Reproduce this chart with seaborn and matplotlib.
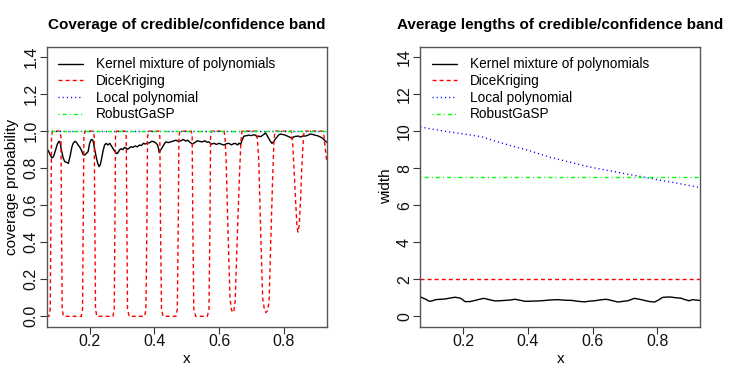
import matplotlib
matplotlib.use("Agg")
import matplotlib.pyplot as plt
import seaborn as sns

# x range shared by both panels
x_edges = [0.067, 0.933]

# --- left panel: coverage probability ---
kernel_cov_x = [0.067, 0.072, 0.077, 0.083, 0.088, 0.094, 0.100, 0.105, 0.108, 0.113,
                0.118, 0.123, 0.128, 0.134, 0.140, 0.145, 0.149, 0.154, 0.159, 0.164,
                0.169, 0.175, 0.180, 0.185, 0.190, 0.195, 0.200, 0.205, 0.210, 0.215,
                0.221, 0.225, 0.229, 0.233, 0.236, 0.241, 0.246, 0.251, 0.256, 0.262,
                0.267, 0.272, 0.278, 0.284, 0.288, 0.292, 0.297, 0.302, 0.308, 0.313,
                0.318, 0.323, 0.328, 0.334, 0.340, 0.347, 0.354, 0.360, 0.366, 0.372,
                0.378, 0.385, 0.392, 0.400, 0.405, 0.410, 0.413, 0.415, 0.420, 0.426,
                0.431, 0.436, 0.443, 0.451, 0.458, 0.467, 0.474, 0.482, 0.490, 0.497,
                0.503, 0.510, 0.518, 0.525, 0.533, 0.541, 0.549, 0.556, 0.563, 0.569,
                0.576, 0.585, 0.592, 0.600, 0.607, 0.615, 0.623, 0.631, 0.638, 0.645,
                0.651, 0.657, 0.662, 0.667, 0.672, 0.677, 0.684, 0.692, 0.700, 0.707,
                0.713, 0.718, 0.723, 0.729, 0.735, 0.740, 0.744, 0.749, 0.754, 0.759,
                0.764, 0.770, 0.775, 0.780, 0.785, 0.790, 0.797, 0.805, 0.813, 0.821,
                0.826, 0.831, 0.838, 0.846, 0.853, 0.860, 0.867, 0.875, 0.882, 0.890,
                0.897, 0.905, 0.913, 0.920, 0.928, 0.933]
kernel_cov_y = [0.905, 0.895, 0.875, 0.855, 0.862, 0.895, 0.930, 0.945, 0.942, 0.895,
                0.855, 0.835, 0.832, 0.826, 0.870, 0.915, 0.934, 0.945, 0.940, 0.925,
                0.915, 0.895, 0.872, 0.871, 0.880, 0.889, 0.935, 0.955, 0.951, 0.905,
                0.853, 0.825, 0.808, 0.820, 0.844, 0.890, 0.925, 0.934, 0.925, 0.934,
                0.920, 0.907, 0.890, 0.878, 0.885, 0.898, 0.905, 0.900, 0.912, 0.908,
                0.902, 0.910, 0.916, 0.912, 0.920, 0.915, 0.925, 0.922, 0.934, 0.930,
                0.937, 0.937, 0.945, 0.942, 0.935, 0.925, 0.905, 0.884, 0.900, 0.916,
                0.932, 0.942, 0.938, 0.942, 0.946, 0.951, 0.944, 0.948, 0.955, 0.946,
                0.951, 0.940, 0.930, 0.938, 0.948, 0.944, 0.942, 0.948, 0.940, 0.942,
                0.930, 0.934, 0.928, 0.934, 0.930, 0.925, 0.932, 0.934, 0.926, 0.932,
                0.934, 0.925, 0.935, 0.928, 0.955, 0.973, 0.975, 0.978, 0.976, 0.980,
                0.978, 0.968, 0.973, 0.970, 0.978, 0.984, 0.991, 0.975, 0.960, 0.945,
                0.934, 0.945, 0.960, 0.969, 0.980, 0.984, 0.982, 0.978, 0.972, 0.966,
                0.960, 0.969, 0.972, 0.973, 0.968, 0.975, 0.973, 0.978, 0.984, 0.982,
                0.978, 0.975, 0.969, 0.962, 0.948, 0.940]

dice_cov_x = [0.067, 0.074, 0.078, 0.080, 0.082, 0.085,
              0.108, 0.111, 0.113, 0.115, 0.119, 0.174, 0.178, 0.180, 0.182, 0.185,
              0.211, 0.214, 0.216, 0.218, 0.222, 0.272, 0.276, 0.278, 0.280, 0.283,
              0.310, 0.313, 0.315, 0.317, 0.322, 0.370, 0.374, 0.377, 0.379, 0.382,
              0.414, 0.417, 0.419, 0.422, 0.427, 0.467, 0.471, 0.474, 0.476, 0.479,
              0.514, 0.517, 0.519, 0.522, 0.528, 0.564, 0.569, 0.572, 0.574, 0.577,
              0.616, 0.619, 0.622, 0.628, 0.634, 0.638, 0.642, 0.646, 0.650, 0.656,
              0.663, 0.668, 0.671,
              0.716, 0.719, 0.723, 0.729, 0.735, 0.740, 0.745, 0.750, 0.755, 0.760,
              0.766, 0.770, 0.773,
              0.824, 0.828, 0.832, 0.837, 0.841, 0.844, 0.848, 0.852, 0.856, 0.860,
              0.863,
              0.921, 0.925, 0.929, 0.933]
dice_cov_y = [0.0, 0.0, 0.04, 0.5, 0.97, 1.0,
              1.0, 0.97, 0.5, 0.04, 0.0, 0.0, 0.04, 0.5, 0.97, 1.0,
              1.0, 0.97, 0.5, 0.04, 0.0, 0.0, 0.04, 0.5, 0.97, 1.0,
              1.0, 0.97, 0.5, 0.04, 0.0, 0.0, 0.04, 0.5, 0.97, 1.0,
              1.0, 0.97, 0.5, 0.04, 0.0, 0.0, 0.04, 0.5, 0.97, 1.0,
              1.0, 0.97, 0.5, 0.04, 0.0, 0.0, 0.04, 0.5, 0.97, 1.0,
              1.0, 0.95, 0.84, 0.45, 0.10, 0.04, 0.02, 0.03, 0.08, 0.40,
              0.75, 0.95, 1.0,
              1.0, 0.95, 0.84, 0.45, 0.10, 0.04, 0.02, 0.03, 0.08, 0.40,
              0.75, 0.95, 1.0,
              1.0, 0.93, 0.80, 0.62, 0.49, 0.455, 0.49, 0.62, 0.80, 0.93,
              1.0,
              1.0, 0.97, 0.90, 0.84]

local_cov_y = [1.0, 1.0]
robust_cov_y = [1.0, 1.0]

# --- right panel: average widths ---
kernel_len_x = [0.067, 0.069, 0.076, 0.083, 0.090, 0.098, 0.106, 0.114, 0.130, 0.145,
                0.160, 0.175, 0.191, 0.206, 0.222, 0.237, 0.250, 0.263, 0.280, 0.298,
                0.313, 0.329, 0.345, 0.360, 0.375, 0.391, 0.415, 0.442, 0.467, 0.493,
                0.514, 0.534, 0.555, 0.575, 0.590, 0.606, 0.625, 0.642, 0.660, 0.678,
                0.694, 0.709, 0.729, 0.745, 0.760, 0.775, 0.791, 0.804, 0.816, 0.829,
                0.842, 0.858, 0.873, 0.886, 0.898, 0.909, 0.920, 0.929, 0.933]
kernel_len_y = [1.02, 1.04, 0.98, 0.93, 0.85, 0.81, 0.85, 0.90, 0.92, 0.94,
                0.99, 1.03, 0.98, 0.79, 0.80, 0.86, 0.92, 0.97, 0.90, 0.83,
                0.84, 0.86, 0.88, 0.92, 0.87, 0.81, 0.82, 0.84, 0.88, 0.90,
                0.87, 0.86, 0.81, 0.78, 0.82, 0.84, 0.89, 0.92, 0.85, 0.77,
                0.81, 0.84, 0.97, 0.92, 0.86, 0.80, 0.77, 0.88, 1.02, 1.04,
                1.04, 1.00, 0.98, 0.90, 0.84, 0.90, 0.88, 0.86, 0.85]

dice_len_y = [2.0, 2.0]

local_len_x = [0.067, 0.100, 0.155, 0.200, 0.258, 0.300, 0.360, 0.400, 0.462, 0.500,
               0.565, 0.600, 0.668, 0.700, 0.764, 0.800, 0.873, 0.933]
local_len_y = [10.23, 10.12, 9.96, 9.85, 9.69, 9.45, 9.15, 8.97, 8.62, 8.45,
               8.17, 8.03, 7.81, 7.70, 7.50, 7.38, 7.15, 6.95]

robust_len_y = [7.5, 7.5]

legend_labels = ["Kernel mixture of polynomials", "DiceKriging",
                 "Local polynomial", "RobustGaSP"]

sns.set_theme(style="ticks")
plt.rcParams['font.family'] = ['Liberation Sans', 'DejaVu Sans']
plt.rcParams['text.color'] = 'black'
plt.rcParams['axes.labelcolor'] = 'black'

fig = plt.figure(figsize=(7.47, 3.74), dpi=100)
ax1 = fig.add_axes([0.0625, 0.1265, 0.3748, 0.7487])
ax2 = fig.add_axes([0.5627, 0.1265, 0.3748, 0.7487])

red_dash = (0, (2.9, 2.2))
blue_dot = (0, (0.8, 2.2))
green_dd = (0, (0.8, 2.2, 2.9, 2.2))

# left panel
sns.lineplot(x=kernel_cov_x, y=kernel_cov_y, ax=ax1, color='black', linewidth=1.0,
             label=legend_labels[0], errorbar=None)
sns.lineplot(x=dice_cov_x, y=dice_cov_y, ax=ax1, color='#FF0000', linewidth=1.0,
             linestyle=red_dash, label=legend_labels[1], errorbar=None, sort=False)
sns.lineplot(x=x_edges, y=local_cov_y, ax=ax1, color='#0000FF', linewidth=1.0,
             linestyle=blue_dot, label=legend_labels[2], errorbar=None)
sns.lineplot(x=x_edges, y=robust_cov_y, ax=ax1, color='#00FF00', linewidth=1.0,
             linestyle=green_dd, label=legend_labels[3], errorbar=None)

# right panel
sns.lineplot(x=kernel_len_x, y=kernel_len_y, ax=ax2, color='black', linewidth=1.0,
             label=legend_labels[0], errorbar=None)
sns.lineplot(x=x_edges, y=dice_len_y, ax=ax2, color='#FF0000', linewidth=1.0,
             linestyle=red_dash, label=legend_labels[1], errorbar=None)
sns.lineplot(x=local_len_x, y=local_len_y, ax=ax2, color='#0000FF', linewidth=1.0,
             linestyle=blue_dot, label=legend_labels[2], errorbar=None)
sns.lineplot(x=x_edges, y=robust_len_y, ax=ax2, color='#00FF00', linewidth=1.0,
             linestyle=green_dd, label=legend_labels[3], errorbar=None)


def style_panel(ax, title, ylabel, yticks, yticklabels, ylim):
    ax.set_xlim(x_edges[0], x_edges[1])
    ax.set_ylim(ylim)
    ax.set_xticks([0.2, 0.4, 0.6, 0.8])
    ax.set_xticklabels(['0.2', '0.4', '0.6', '0.8'])
    ax.set_yticks(yticks)
    ax.set_yticklabels(yticklabels, rotation=90, va='center')
    ax.tick_params(axis='both', direction='out', length=5, width=0.8,
                   color='#333333', labelsize=11.5, labelcolor='#111111')
    ax.tick_params(axis='x', pad=0.5)
    ax.tick_params(axis='y', pad=1)
    for sp in ax.spines.values():
        sp.set_color('#555555')
        sp.set_linewidth(1.0)
    ax.set_title(title, fontsize=11, fontweight='bold', pad=12.5, color='black')
    ax.set_xlabel('x', fontsize=11, labelpad=2)
    ax.set_ylabel(ylabel, fontsize=11, labelpad=3)
    ax.legend(loc='upper left', bbox_to_anchor=(0.041, 0.962), frameon=False,
              fontsize=9.8, handlelength=1.84, handletextpad=0.93,
              labelspacing=0.2, borderpad=0, borderaxespad=0)


style_panel(ax1, 'Coverage of credible/confidence band', 'coverage probability',
            [0.0, 0.2, 0.4, 0.6, 0.8, 1.0, 1.2, 1.4],
            ['0.0', '0.2', '0.4', '0.6', '0.8', '1.0', '1.2', '1.4'], (-0.056, 1.456))
style_panel(ax2, 'Average lengths of credible/confidence band', 'width',
            [0, 2, 4, 6, 8, 10, 12, 14],
            ['0', '2', '4', '6', '8', '10', '12', '14'], (-0.56, 14.56))

fig.savefig('out.png', dpi=100)
